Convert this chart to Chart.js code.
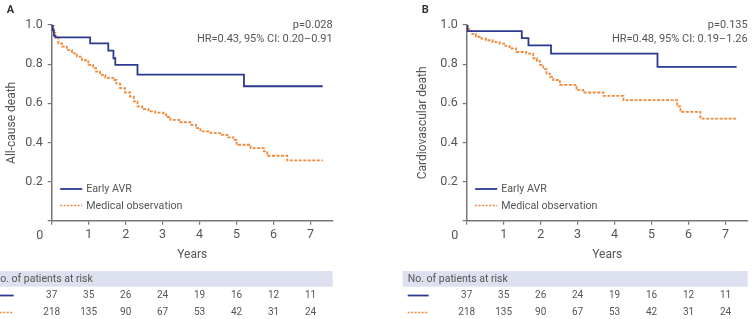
<!DOCTYPE html>
<html>
<head>
<meta charset="utf-8">
<script src="https://cdn.jsdelivr.net/npm/chart.js@4.4.1/dist/chart.umd.min.js"></script>
<style>
    body { margin: 0; background: #fff; }
    .panel { position: absolute; top: 0; width: 376px; height: 319px; }
    #panelA { left: 0; }
    #panelB { left: 376px; }
</style>
</head>
<body>
<div class="panel" id="panelA"><canvas id="chartA" width="376" height="319"></canvas></div>
<div class="panel" id="panelB"><canvas id="chartB" width="376" height="319"></canvas></div>
<script>
// Axis ticks
const xTicks = [0, 1, 2, 3, 4, 5, 6, 7];
const yTicks = [0, 0.2, 0.4, 0.6, 0.8, 1.0];

// Panel A - all-cause death (time in years, survival)
const allCauseEarlyT = [0, 0.03, 0.06, 0.1, 1.04, 1.53, 1.67, 1.72, 2.32, 5.2, 7.33];
const allCauseEarlyS = [1.0, 0.973, 0.946, 0.937, 0.906, 0.869, 0.83, 0.796, 0.746, 0.687, 0.687];
const allCauseMedT = [0, 0.05, 0.1, 0.18, 0.28, 0.41, 0.55, 0.68, 0.82, 0.99, 1.12, 1.2, 1.31, 1.45, 1.67, 1.75, 1.85, 1.98, 2.12, 2.22, 2.32, 2.45, 2.62, 2.8, 3.02, 3.1, 3.21, 3.45, 3.75, 3.9, 4.02, 4.3, 4.56, 4.75, 4.92, 5.0, 5.38, 5.74, 5.83, 6.37, 7.33];
const allCauseMedS = [1.0, 0.96, 0.937, 0.906, 0.89, 0.872, 0.855, 0.838, 0.82, 0.796, 0.78, 0.762, 0.745, 0.73, 0.719, 0.7, 0.677, 0.655, 0.634, 0.61, 0.584, 0.57, 0.559, 0.552, 0.543, 0.53, 0.515, 0.503, 0.49, 0.473, 0.456, 0.448, 0.439, 0.426, 0.413, 0.388, 0.371, 0.354, 0.332, 0.308, 0.308];

// Panel B - cardiovascular death
const cardioEarlyT = [0, 0.02, 1.49, 1.67, 2.28, 5.16, 7.3];
const cardioEarlyS = [1.0, 0.969, 0.933, 0.896, 0.854, 0.786, 0.786];
const cardioMedT = [0, 0.03, 0.07, 0.15, 0.25, 0.4, 0.52, 0.7, 0.89, 1.05, 1.16, 1.34, 1.61, 1.8, 1.9, 1.98, 2.07, 2.16, 2.25, 2.34, 2.52, 2.97, 3.15, 3.7, 4.24, 5.69, 5.78, 6.32, 7.3];
const cardioMedS = [1.0, 0.98, 0.969, 0.955, 0.94, 0.93, 0.922, 0.912, 0.905, 0.892, 0.88, 0.862, 0.854, 0.83, 0.815, 0.796, 0.775, 0.752, 0.735, 0.719, 0.694, 0.668, 0.655, 0.638, 0.616, 0.584, 0.556, 0.522, 0.522];

// Numbers at risk (same in both panels)
const riskEarly = [37, 35, 26, 24, 19, 16, 12, 11];
const riskMed = [218, 135, 90, 67, 53, 42, 31, 24];

const blue = '#2b3a8f';
const orange = '#f0893a';
const textColor = '#555';
const axisColor = '#777';
const fontFamily = 'Roboto, "Noto Sans", sans-serif';

function toPoints(ts, ss) {
    return ts.map((t, i) => ({ x: t, y: ss[i] }));
}

// Draws panel letter, stats text, inner legend and the risk table
const panelExtras = {
    id: 'panelExtras',
    afterDraw(chart, args, opts) {
        const ctx = chart.ctx;
        const area = chart.chartArea;
        const xScale = chart.scales.x;
        ctx.save();

        // panel letter
        ctx.fillStyle = '#333';
        ctx.font = 'bold 11px ' + fontFamily;
        ctx.textAlign = 'left';
        ctx.textBaseline = 'middle';
        ctx.fillText(opts.letter, area.left - 45, 10);

        // p value and HR
        ctx.fillStyle = textColor;
        ctx.font = '11px ' + fontFamily;
        ctx.textAlign = 'right';
        ctx.fillText(opts.pText, area.right, 25);
        ctx.fillText(opts.hrText, area.right, 39.5);

        // legend inside plot
        const legendItems = [
            { label: 'Early AVR', color: blue, dash: [], y: 189 },
            { label: 'Medical observation', color: orange, dash: [2, 1.5], y: 205.5 }
        ];
        ctx.textAlign = 'left';
        ctx.font = '10.7px ' + fontFamily;
        legendItems.forEach(item => {
            ctx.strokeStyle = item.color;
            ctx.lineWidth = item.dash.length ? 1.3 : 1.8;
            ctx.setLineDash(item.dash);
            ctx.beginPath();
            ctx.moveTo(area.left + 8.5, item.y);
            ctx.lineTo(area.left + 30.5, item.y);
            ctx.stroke();
            ctx.setLineDash([]);
            ctx.fillStyle = textColor;
            ctx.fillText(item.label, area.left + 34.5, item.y + 0.5);
        });

        // risk table
        const bandLeft = area.left - 64;
        ctx.fillStyle = '#dde0ee';
        ctx.fillRect(bandLeft, 271, area.right - bandLeft, 15.7);
        ctx.fillStyle = textColor;
        ctx.font = '10.5px ' + fontFamily;
        ctx.fillText('No. of patients at risk', bandLeft + 5, 279);

        const rows = [
            { values: riskEarly, color: blue, dash: [], y: 295.5 },
            { values: riskMed, color: orange, dash: [2, 1.5], y: 312.5 }
        ];
        rows.forEach(row => {
            ctx.strokeStyle = row.color;
            ctx.lineWidth = row.dash.length ? 1.3 : 1.8;
            ctx.setLineDash(row.dash);
            ctx.beginPath();
            ctx.moveTo(bandLeft + 5, row.y);
            ctx.lineTo(bandLeft + 26, row.y);
            ctx.stroke();
            ctx.setLineDash([]);
            ctx.fillStyle = textColor;
            ctx.textAlign = 'center';
            ctx.font = '10px ' + fontFamily;
            row.values.forEach((v, i) => {
                ctx.fillText(String(v), xScale.getPixelForValue(xTicks[i]), row.y);
            });
            ctx.textAlign = 'left';
        });

        // origin label "0" sits left of the axis corner
        ctx.textAlign = 'center';
        ctx.font = '12.5px ' + fontFamily;
        ctx.fillText('0', xScale.getPixelForValue(0) - 12, 235.5);
        ctx.restore();
    }
};

function makeChart(canvasId, cfg) {
    const ctx = document.getElementById(canvasId).getContext('2d');
    return new Chart(ctx, {
        type: 'line',
        data: {
            datasets: [{
                label: 'Early AVR',
                data: toPoints(cfg.earlyT, cfg.earlyS),
                borderColor: blue,
                borderWidth: 1.8,
                stepped: 'before',
                pointRadius: 0,
                fill: false
            }, {
                label: 'Medical observation',
                data: toPoints(cfg.medT, cfg.medS),
                borderColor: orange,
                borderWidth: 1.8,
                borderDash: [3, 1.5],
                stepped: 'before',
                pointRadius: 0,
                fill: false
            }]
        },
        options: {
            responsive: false,
            animation: false,
            layout: {
                padding: { left: cfg.padLeft, right: cfg.padRight, top: 25, bottom: 54.3 }
            },
            plugins: {
                legend: { display: false },
                title: { display: false },
                tooltip: { enabled: false },
                panelExtras: cfg.extras
            },
            scales: {
                x: {
                    type: 'linear',
                    min: 0,
                    max: 7.6,
                    afterBuildTicks: scale => {
                        scale.ticks = xTicks.map(v => ({ value: v }));
                    },
                    afterFit: scale => { scale.height = 44; },
                    ticks: {
                        color: textColor,
                        font: { family: fontFamily, size: 12.5 },
                        padding: 3,
                        maxRotation: 0,
                        callback: v => v === 0 ? '' : String(v)
                    },
                    grid: { drawOnChartArea: false, drawTicks: true, tickLength: 4, color: axisColor, lineWidth: 1.2 },
                    border: { display: true, color: axisColor, width: 1.5 },
                    title: {
                        display: true,
                        text: 'Years',
                        color: textColor,
                        font: { family: fontFamily, size: 12 },
                        padding: { top: 0, bottom: 2.5 }
                    }
                },
                y: {
                    min: 0,
                    max: 1,
                    afterBuildTicks: scale => {
                        scale.ticks = yTicks.map(v => ({ value: v }));
                    },
                    afterFit: scale => { scale.width = cfg.yWidth; },
                    ticks: {
                        color: textColor,
                        font: { family: fontFamily, size: 12.5 },
                        padding: 5,
                        callback: v => v === 0 ? '' : v.toFixed(1)
                    },
                    grid: { drawOnChartArea: false, drawTicks: true, tickLength: 4, color: axisColor, lineWidth: 1.2 },
                    border: { display: true, color: axisColor, width: 1.5 },
                    title: {
                        display: true,
                        text: cfg.yTitle,
                        color: textColor,
                        font: { family: fontFamily, size: 12 },
                        padding: { top: 5, bottom: 0 }
                    }
                }
            }
        },
        plugins: [panelExtras]
    });
}

makeChart('chartA', {
    earlyT: allCauseEarlyT, earlyS: allCauseEarlyS,
    medT: allCauseMedT, medS: allCauseMedS,
    yTitle: 'All-cause death',
    padLeft: 0, yWidth: 51.7, padRight: 43.3,
    extras: { letter: 'A', pText: 'p=0.028', hrText: 'HR=0.43, 95% CI: 0.20–0.91' }
});

makeChart('chartB', {
    earlyT: cardioEarlyT, earlyS: cardioEarlyS,
    medT: cardioMedT, medS: cardioMedS,
    yTitle: 'Cardiovascular death',
    padLeft: 35, yWidth: 55.7, padRight: 4.3,
    extras: { letter: 'B', pText: 'p=0.135', hrText: 'HR=0.48, 95% CI: 0.19–1.26' }
});
</script>
</body>
</html>
